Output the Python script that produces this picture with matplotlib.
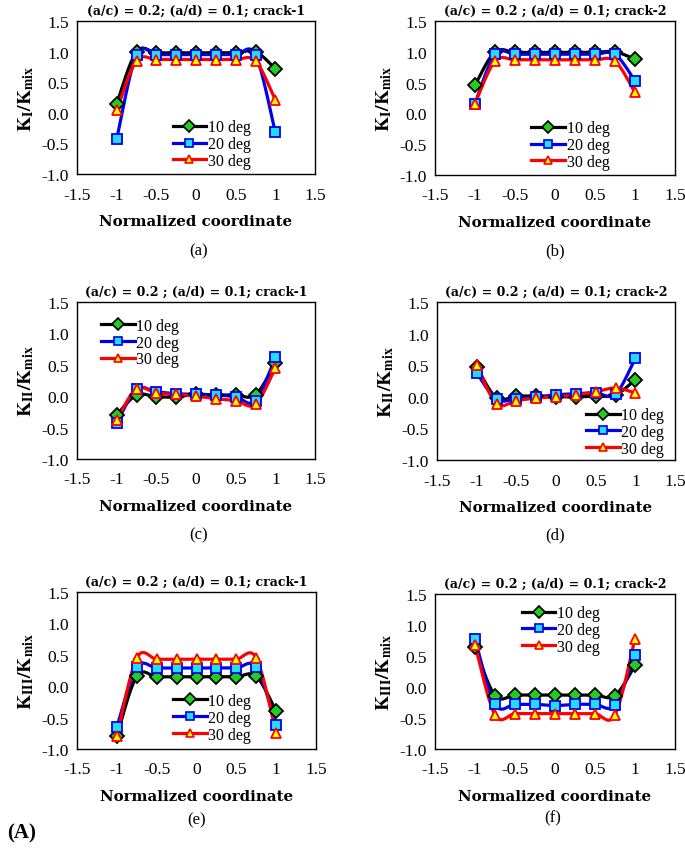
import numpy as np
import matplotlib
matplotlib.use("Agg")
import matplotlib.pyplot as plt
from matplotlib.lines import Line2D

plt.rcParams['mathtext.fontset'] = 'stix'

x = [-1, -0.75, -0.5, -0.25, 0, 0.25, 0.5, 0.75, 1]
series_names = ["10 deg", "20 deg", "30 deg"]

# (a) K_I crack-1
a10 = [0.15, 1.00, 0.98, 0.98, 0.98, 0.98, 0.98, 1.00, 0.72]
a20 = [-0.43, 0.95, 0.95, 0.95, 0.95, 0.95, 0.95, 0.95, -0.32]
a30 = [0.04, 0.85, 0.87, 0.87, 0.87, 0.87, 0.87, 0.85, 0.21]
# (b) K_I crack-2
b10 = [0.46, 1.00, 0.99, 0.99, 0.99, 0.99, 0.99, 1.00, 0.88]
b20 = [0.16, 0.96, 0.96, 0.96, 0.96, 0.96, 0.96, 0.96, 0.53]
b30 = [0.16, 0.85, 0.87, 0.87, 0.87, 0.87, 0.87, 0.85, 0.34]
# (c) K_II crack-1
c10 = [-0.30, 0.02, -0.01, -0.01, 0.03, 0.02, 0.02, 0.02, 0.53]
c20 = [-0.43, 0.11, 0.07, 0.04, 0.03, 0.02, -0.01, -0.08, 0.62]
c30 = [-0.38, 0.12, 0.05, 0.03, 0.00, -0.04, -0.07, -0.13, 0.45]
# (d) K_II crack-2
d10 = [0.47, -0.02, 0.01, 0.01, 0.00, 0.00, 0.01, 0.03, 0.27]
d20 = [0.38, -0.04, -0.03, 0.00, 0.03, 0.05, 0.06, 0.04, 0.61]
d30 = [0.50, -0.11, -0.06, -0.02, 0.00, 0.03, 0.08, 0.14, 0.06]
# (e) K_III crack-1
e10 = [-0.79, 0.16, 0.15, 0.15, 0.15, 0.15, 0.15, 0.16, -0.40]
e20 = [-0.65, 0.30, 0.29, 0.29, 0.29, 0.29, 0.29, 0.30, -0.61]
e30 = [-0.80, 0.45, 0.43, 0.43, 0.43, 0.43, 0.43, 0.45, -0.74]
# (f) K_III crack-2
f10 = [0.64, -0.14, -0.13, -0.13, -0.13, -0.13, -0.13, -0.14, 0.35]
f20 = [0.77, -0.28, -0.28, -0.28, -0.30, -0.28, -0.28, -0.29, 0.52]
f30 = [0.68, -0.45, -0.43, -0.43, -0.43, -0.43, -0.43, -0.45, 0.78]

titles = ["(a/c) = 0.2; (a/d) = 0.1; crack-1", "(a/c) = 0.2 ; (a/d) = 0.1; crack-2",
          "(a/c) = 0.2 ; (a/d) = 0.1; crack-1", "(a/c) = 0.2 ; (a/d) = 0.1; crack-2",
          "(a/c) = 0.2 ; (a/d) = 0.1; crack-1", "(a/c) = 0.2 ; (a/d) = 0.1; crack-2"]
ylabels = [r'$\mathbf{K}_{\mathbf{I}}\mathbf{/K}_{\mathbf{mix}}$'] * 2 + \
          [r'$\mathbf{K}_{\mathbf{II}}\mathbf{/K}_{\mathbf{mix}}$'] * 2 + \
          [r'$\mathbf{K}_{\mathbf{III}}\mathbf{/K}_{\mathbf{mix}}$'] * 2
captions = ["(a)", "(b)", "(c)", "(d)", "(e)", "(f)"]
xticks = [-1.5, -1, -0.5, 0, 0.5, 1, 1.5]
xticklabels = ["-1.5", "-1", "-0.5", "0", "0.5", "1", "1.5"]
yticks = [-1.0, -0.5, 0.0, 0.5, 1.0, 1.5]
yticklabels = ["-1.0", "-0.5", "0.0", "0.5", "1.0", "1.5"]

data = [(a10, a20, a30), (b10, b20, b30), (c10, c20, c30),
        (d10, d20, d30), (e10, e20, e30), (f10, f20, f30)]

W, H = 685, 854
fig = plt.figure(figsize=(W / 100, H / 100), dpi=100)

# pixel boxes (x0, x1, y0, y1)
boxes = [(77, 315, 22, 175), (435, 675, 22, 176),
         (77, 315, 303, 460), (437, 675, 303, 461),
         (77, 316, 593, 750), (435, 675, 595, 750)]
legend_locs = [(0.355, -0.04, 'lower left'), (0.355, -0.04, 'lower left'),
               (0.055, 0.97, 'upper left'), (0.58, -0.05, 'lower left'),
               (0.355, -0.03, 'lower left'), (0.315, 1.0, 'upper left')]
caption_pos = [(199, 251), (555, 251), (199, 535), (555, 535), (197, 820), (553, 818)]

styles = [dict(color='black', marker='D', mfc='#22cc22', mec='black', ms=7),
          dict(color='#0000ee', marker='s', mfc='#22ddff', mec='#0000ee', ms=6.5),
          dict(color='#ff0000', marker='^', mfc='#ffff00', mec='#ff0000', ms=7)]


def smooth(xs, ys, n=20):
    xs = np.asarray(xs, float)
    ys = np.asarray(ys, float)
    px, py = [], []
    m = len(xs)
    for i in range(m - 1):
        x0, y0 = xs[max(i - 1, 0)], ys[max(i - 1, 0)]
        x1, y1 = xs[i], ys[i]
        x2, y2 = xs[i + 1], ys[i + 1]
        x3, y3 = xs[min(i + 2, m - 1)], ys[min(i + 2, m - 1)]
        c1x, c1y = x1 + (x2 - x0) / 6, y1 + (y2 - y0) / 6
        c2x, c2y = x2 - (x3 - x1) / 6, y2 - (y3 - y1) / 6
        t = np.linspace(0, 1, n)
        bx = (1 - t) ** 3 * x1 + 3 * (1 - t) ** 2 * t * c1x + 3 * (1 - t) * t ** 2 * c2x + t ** 3 * x2
        by = (1 - t) ** 3 * y1 + 3 * (1 - t) ** 2 * t * c1y + 3 * (1 - t) * t ** 2 * c2y + t ** 3 * y2
        px.extend(bx)
        py.extend(by)
    return px, py


tick_font = dict(family='Liberation Serif', size=12.5)
for k, (x0, x1, y0, y1) in enumerate(boxes):
    ax = fig.add_axes([x0 / W, 1 - y1 / H, (x1 - x0) / W, (y1 - y0) / H])
    for s, ys, st in zip(series_names, data[k], styles):
        sx, sy = smooth(x, ys)
        ax.plot(sx, sy, color=st['color'], lw=2.3, zorder=2)
        ax.plot(x, ys, ls='none', marker=st['marker'], mfc=st['mfc'], mec=st['mec'],
                ms=st['ms'], mew=1.3, zorder=3)
    ax.set_xlim(-1.5, 1.5)
    ax.set_ylim(-1.0, 1.5)
    ax.set_xticks(xticks)
    ax.set_xticklabels(xticklabels, fontdict=tick_font)
    ax.set_yticks(yticks)
    ax.set_yticklabels(yticklabels, fontdict=tick_font)
    ax.tick_params(axis='x', length=0, pad=9)
    ax.tick_params(axis='y', length=0, pad=6)
    for sp in ax.spines.values():
        sp.set_linewidth(1.0)
    ax.set_title(titles[k], family='DejaVu Serif', fontweight='bold', fontsize=9, pad=5)
    ax.set_xlabel("Normalized coordinate", family='DejaVu Serif', fontweight='bold',
                  fontsize=10.8, labelpad=8)
    ax.set_ylabel(ylabels[k], fontsize=14, labelpad=4)
    handles = [Line2D([0], [0], color=st['color'], lw=2.3, marker=st['marker'],
                      mfc=st['mfc'], mec=st['mec'], ms=st['ms'] * 0.85, mew=1.2)
               for st in styles]
    lx, ly, lloc = legend_locs[k]
    ax.legend(handles, series_names, loc=lloc, bbox_to_anchor=(lx, ly), frameon=False,
              prop=dict(family='Liberation Serif', size=11.5), handlelength=2.1,
              handletextpad=0.1, labelspacing=0.05, borderpad=0.2)
    cx, cy = caption_pos[k]
    fig.text(cx / W, 1 - cy / H, captions[k], ha='center', va='center',
             family='Liberation Serif', fontsize=12)

fig.text(22 / W, 1 - 833 / H, "(A)", ha='center', va='center',
         family='Liberation Serif', fontweight='bold', fontsize=15)

fig.savefig("out.png", dpi=100, facecolor='white')
